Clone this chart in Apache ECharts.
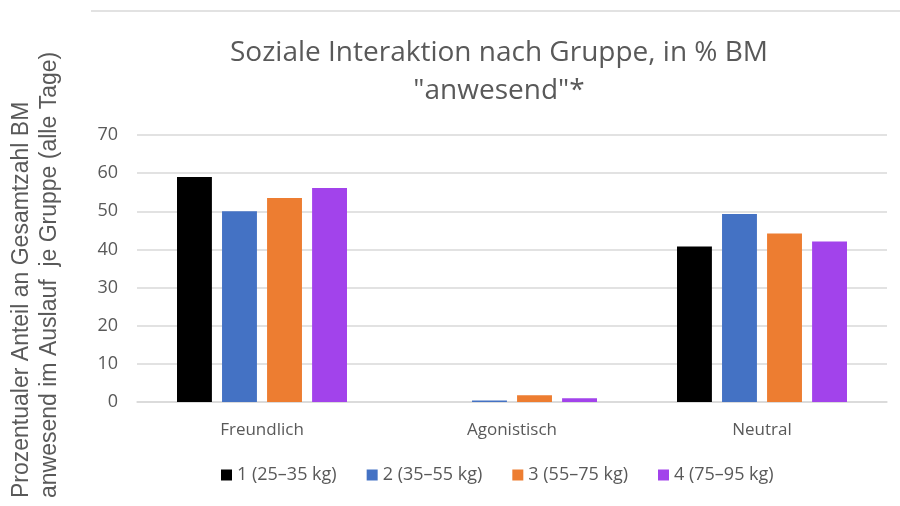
<!DOCTYPE html>
<html lang="de">
<head>
<meta charset="UTF-8">
<title>Soziale Interaktion nach Gruppe</title>
<script src="https://cdn.jsdelivr.net/npm/echarts@6/dist/echarts.min.js"></script>
<style>
  body { margin: 0; background: #fff; }
  #chart { width: 900px; height: 506px; }
</style>
</head>
<body>
<div id="chart"></div>
<script type="text/javascript">
var categories = ['Freundlich', 'Agonistisch', 'Neutral'];
var groupNames = ['1 (25–35 kg)', '2 (35–55 kg)', '3 (55–75 kg)', '4 (75–95 kg)'];
var group1 = [59.0, 0, 40.8];
var group2 = [50.0, 0.4, 49.3];
var group3 = [53.5, 1.8, 44.2];
var group4 = [56.1, 1.0, 42.1];
var yTicks = [0, 10, 20, 30, 40, 50, 60, 70];
var colors = ['#000000', '#4472c4', '#ed7d31', '#a243eb'];
var yName = 'Prozentualer Anteil an Gesamtzahl BM\nanwesend im Auslauf  je Gruppe (alle Tage)';

var chart = echarts.init(document.getElementById('chart'));
var values = [group1, group2, group3, group4];
var font = '"Open Sans", "Noto Sans", sans-serif';

var series = [];
for (var i = 0; i < values.length; i++) {
  series.push({
    name: groupNames[i],
    type: 'bar',
    data: values[i],
    barGap: '29%',
    barCategoryGap: '32%',
    itemStyle: { color: colors[i] }
  });
}

var option = {
  animation: false,
  title: {
    text: 'Soziale Interaktion nach Gruppe, in % BM\n"anwesend"*',
    left: 494,
    top: 29,
    textAlign: 'center',
    textStyle: { fontFamily: font, fontSize: 28, fontWeight: 'normal', color: '#595959', lineHeight: 38 }
  },
  legend: {
    data: groupNames,
    bottom: 17,
    left: 216,
    itemWidth: 11,
    itemHeight: 11,
    itemGap: 30,
    icon: 'rect',
    textStyle: { fontFamily: font, fontSize: 18, color: '#595959' }
  },
  grid: { left: 137, right: 13, top: 135, bottom: 104, outerBoundsMode: 'none' },
  xAxis: {
    type: 'category',
    data: categories,
    axisLine: { lineStyle: { color: '#d9d9d9', width: 1.5 } },
    axisTick: { show: false },
    axisLabel: { fontFamily: font, fontSize: 17, color: '#595959', margin: 20 }
  },
  yAxis: {
    type: 'value',
    min: yTicks[0],
    max: yTicks[yTicks.length - 1],
    interval: 10,
    axisLine: { show: false },
    axisTick: { show: false },
    splitLine: { lineStyle: { color: '#d9d9d9', width: 1.5 } },
    axisLabel: { fontFamily: font, fontSize: 18, color: '#595959', margin: 19 }
  },
  graphic: [{
    type: 'line',
    shape: { x1: 91, y1: 11, x2: 900, y2: 11 },
    style: { stroke: '#d9d9d9', lineWidth: 1.5 }
  }, {
    type: 'text',
    x: 36,
    y: 498,
    rotation: Math.PI / 2,
    style: {
      text: yName,
      font: '23px "Liberation Sans", Arial, sans-serif',
      fill: '#595959',
      align: 'left',
      verticalAlign: 'middle',
      lineHeight: 28
    }
  }],
  series: series
};

chart.setOption(option);
</script>
</body>
</html>
